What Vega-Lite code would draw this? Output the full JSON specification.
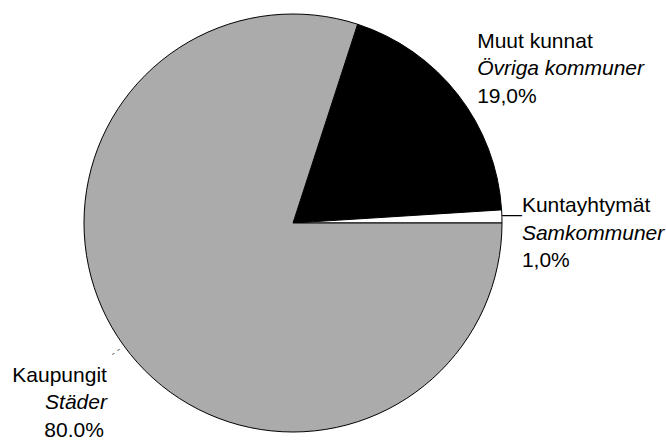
{
  "$schema": "https://vega.github.io/schema/vega-lite/v6.json",
  "width": 586,
  "height": 434,
  "autosize": "none",
  "padding": {"left": 0, "top": 6, "right": 80, "bottom": 0},
  "background": "white",
  "view": {"stroke": null},
  "config": {"text": {"font": "Liberation Sans", "fontSize": 21, "color": "#000000"}},
  "data": {
    "values": [
      {"fi": "Muut kunnat", "sv": "Övriga kommuner", "pct": "19,0%", "share": 19.0, "order": 1},
      {"fi": "Kuntayhtymät", "sv": "Samkommuner", "pct": "1,0%", "share": 1.0, "order": 2},
      {"fi": "Kaupungit", "sv": "Städer", "pct": "80.0%", "share": 80.0, "order": 3}
    ]
  },
  "encoding": {
    "theta": {"field": "share", "type": "quantitative", "stack": true, "scale": {"range": [0.3142, 6.5974]}},
    "order": {"field": "order", "type": "quantitative"}
  },
  "layer": [
    {
      "mark": {"type": "arc", "outerRadius": 209, "stroke": "#000000", "strokeWidth": 1},
      "encoding": {
        "color": {
          "field": "fi", "type": "nominal", "legend": null,
          "scale": {"domain": ["Muut kunnat", "Kuntayhtymät", "Kaupungit"], "range": ["#000000", "#ffffff", "#ababab"]}
        }
      }
    },
    {
      "mark": {"type": "text", "radius": 209, "align": "left", "baseline": "alphabetic", "dx": 19, "dy": -47},
      "encoding": {"text": {"condition": {"test": "datum.order == 1", "field": "fi"}, "value": ""}}
    },
    {
      "mark": {"type": "text", "radius": 209, "align": "left", "baseline": "alphabetic", "fontStyle": "italic", "dx": 19, "dy": -19.5},
      "encoding": {"text": {"condition": {"test": "datum.order == 1", "field": "sv"}, "value": ""}}
    },
    {
      "mark": {"type": "text", "radius": 209, "align": "left", "baseline": "alphabetic", "dx": 19, "dy": 8},
      "encoding": {"text": {"condition": {"test": "datum.order == 1", "field": "pct"}, "value": ""}}
    },
    {
      "mark": {"type": "text", "radius": 209, "align": "left", "baseline": "alphabetic", "dx": 20, "dy": -4},
      "encoding": {"text": {"condition": {"test": "datum.order == 2", "field": "fi"}, "value": ""}}
    },
    {
      "mark": {"type": "text", "radius": 209, "align": "left", "baseline": "alphabetic", "fontStyle": "italic", "dx": 20, "dy": 23.5},
      "encoding": {"text": {"condition": {"test": "datum.order == 2", "field": "sv"}, "value": ""}}
    },
    {
      "mark": {"type": "text", "radius": 209, "align": "left", "baseline": "alphabetic", "dx": 20, "dy": 51},
      "encoding": {"text": {"condition": {"test": "datum.order == 2", "field": "pct"}, "value": ""}}
    },
    {
      "mark": {"type": "text", "radius": 209, "align": "right", "baseline": "alphabetic", "dx": -17, "dy": 36},
      "encoding": {"text": {"condition": {"test": "datum.order == 3", "field": "fi"}, "value": ""}}
    },
    {
      "mark": {"type": "text", "radius": 209, "align": "right", "baseline": "alphabetic", "fontStyle": "italic", "dx": -17, "dy": 63.5},
      "encoding": {"text": {"condition": {"test": "datum.order == 3", "field": "sv"}, "value": ""}}
    },
    {
      "mark": {"type": "text", "radius": 209, "align": "right", "baseline": "alphabetic", "dx": -20, "dy": 91},
      "encoding": {"text": {"condition": {"test": "datum.order == 3", "field": "pct"}, "value": ""}}
    },
    {
      "mark": {"type": "text", "radius": 219, "align": "center", "baseline": "middle", "fontSize": 20, "dy": -1},
      "encoding": {"text": {"condition": {"test": "datum.order == 2", "value": "—"}, "value": ""}}
    },
    {
      "mark": {"type": "text", "radius": 219, "align": "center", "baseline": "middle", "fontSize": 11, "angle": 324, "color": "#666666"},
      "encoding": {"text": {"condition": {"test": "datum.order == 3", "value": "-  -"}, "value": ""}}
    }
  ]
}
